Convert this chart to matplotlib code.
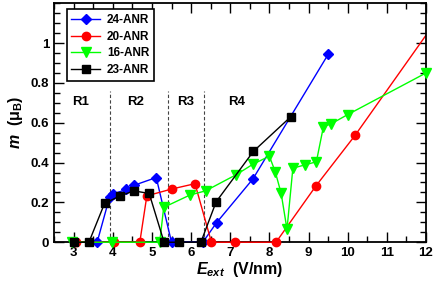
import matplotlib
matplotlib.use("Agg")
import matplotlib.pyplot as plt
from matplotlib.ticker import MultipleLocator

plt.rcParams['font.family'] = ['Liberation Sans', 'DejaVu Sans']
plt.rcParams['font.weight'] = 'bold'
plt.rcParams['mathtext.fontset'] = 'custom'
plt.rcParams['mathtext.it'] = 'Liberation Sans:italic:bold'
plt.rcParams['mathtext.rm'] = 'Liberation Sans:bold'
plt.rcParams['mathtext.bf'] = 'Liberation Sans:bold'

# 24-ANR
x24 = [3.6, 3.92, 4.0, 4.35, 4.53, 5.11, 5.5, 6.3, 6.65, 7.58, 9.5]
y24 = [0, 0.228, 0.242, 0.265, 0.285, 0.325, 0, 0, 0.098, 0.318, 0.943]
# 20-ANR
x20 = [3.07, 4.04, 4.69, 4.87, 5.5, 6.1, 6.52, 7.13, 8.17, 9.19, 10.19]
y20 = [0, 0, 0, 0.233, 0.267, 0.294, 0, 0, 0, 0.283, 0.537]
x20_end = [10.19, 12.2]
y20_end = [0.537, 1.095]
# 16-ANR
x16 = [2.96, 3.97, 5.2, 5.3, 5.97, 6.37, 7.16, 7.59, 8.0, 8.15, 8.3, 8.45, 8.6, 8.9, 9.2, 9.38, 9.58, 10.0, 12.0]
y16 = [0, 0, 0, 0.175, 0.237, 0.258, 0.34, 0.393, 0.432, 0.354, 0.246, 0.065, 0.372, 0.388, 0.404, 0.58, 0.595, 0.641, 0.85]
# 23-ANR
x23 = [3.02, 3.39, 3.79, 4.18, 4.54, 4.93, 5.31, 5.69, 6.25, 6.64, 7.59, 8.54]
y23 = [0, 0, 0.195, 0.232, 0.258, 0.245, 0, 0, 0, 0.203, 0.456, 0.629]

regions = ['R1', 'R2', 'R3', 'R4']
region_x = [3.17, 4.58, 5.86, 7.17]
borders = [3.92, 5.42, 6.32]

fig = plt.figure(figsize=(4.36, 2.87), dpi=100)
ax = fig.add_axes([0.124, 0.156, 0.853, 0.8325])

for b in borders:
    ax.plot([b, b], [0, 0.76], ls=(0, (3, 2)), color='#444444', lw=0.8)
for r, rx in zip(regions, region_x):
    ax.text(rx, 0.705, r, ha='center', va='center', fontsize=9.5, fontweight='bold')

ax.plot(x20_end, y20_end, '-', color='#ff0000', lw=1)
ax.plot(x24, y24, '-D', color='#0000ff', lw=1, ms=5, label='24-ANR', clip_on=False, zorder=3)
ax.plot(x20, y20, '-o', color='#ff0000', lw=1, ms=6, label='20-ANR', clip_on=False, zorder=3)
ax.plot(x16, y16, '-v', color='#00ff00', lw=1, ms=6.5, label='16-ANR', clip_on=False, zorder=3)
ax.plot(x23, y23, '-s', color='black', lw=1, ms=5.5, label='23-ANR', clip_on=False, zorder=4)

ax.set_xlim(2.5, 12)
ax.set_ylim(0, 1.2)
ax.xaxis.set_major_locator(MultipleLocator(1))
ax.xaxis.set_minor_locator(MultipleLocator(0.5))
ax.yaxis.set_minor_locator(MultipleLocator(0.05))
ax.set_yticks([0, 0.2, 0.4, 0.6, 0.8, 1])
ax.set_yticklabels(['0', '0.2', '0.4', '0.6', '0.8', '1'])
ax.tick_params(which='both', direction='in', top=True, right=True, labelsize=9.5, width=1)
ax.tick_params(which='major', length=7)
ax.tick_params(which='minor', length=4)
for s in ax.spines.values():
    s.set_linewidth(1.3)

ax.set_xlabel(r'$E_{ext}$  (V/nm)', fontsize=11.5, fontweight='bold', labelpad=1)
ax.set_ylabel(r'$m$  (μ$_{\rm B}$)', fontsize=11.5, fontweight='bold', labelpad=4)

leg = ax.legend(loc='upper left', bbox_to_anchor=(0.034, 0.975), borderaxespad=0,
                fontsize=8.5, handlelength=2.4, fancybox=False, edgecolor='black',
                framealpha=1, labelspacing=0.4, borderpad=0.4, handletextpad=0.6)
leg.get_frame().set_linewidth(1.2)

fig.savefig('out.png', dpi=100)
